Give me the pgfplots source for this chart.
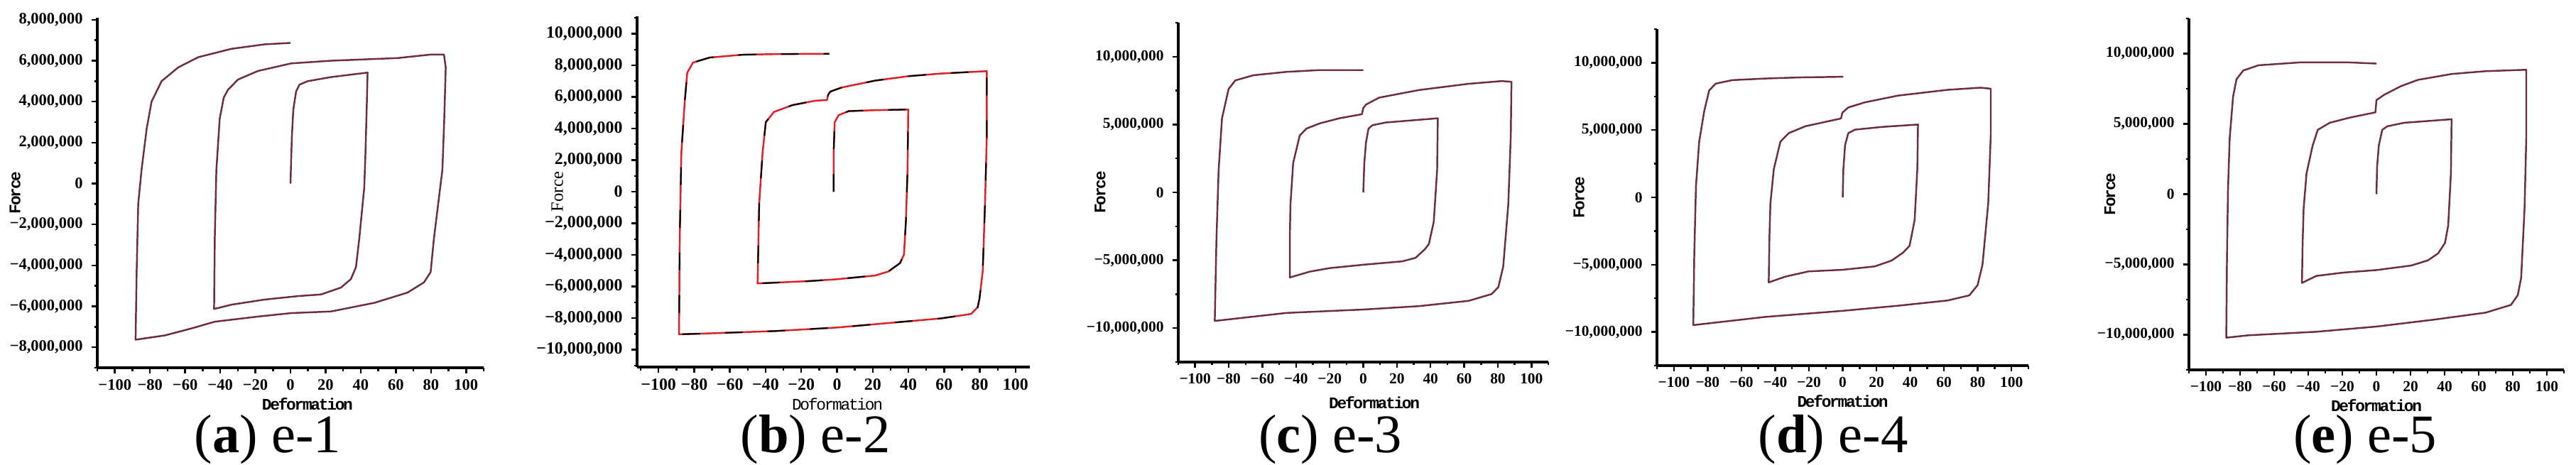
\documentclass[border=0pt]{standalone}
\usepackage{fontspec}
\setmainfont{Liberation Serif}
\newfontfamily\labmono[LetterSpace=-10]{Liberation Mono}
\usepackage{pgfplots}
\pgfplotsset{compat=1.18}
\definecolor{loopc}{RGB}{110,45,60}
\definecolor{loopred}{RGB}{225,30,35}

\pgfplotsset{
  hyst/.style={
    scale only axis, anchor=south west,
    xmin=-110, xmax=110,
    axis lines=left,
    axis line style={-, line width=0.9pt},
    tick align=outside,
    major tick length=0.08cm, minor tick length=0.045cm,
    every tick/.style={black, line width=0.7pt},
    xtick={-100,-80,...,100},
    xticklabels={−100,−80,−60,−40,−20,0,20,40,60,80,100},
    minor xtick={-110,-90,...,110},
    tick label style={font=\fontsize{6.1}{7}\selectfont\bfseries},
    xticklabel style={yshift=0.04cm},
    xlabel style={font=\fontsize{6.5}{7}\selectfont\labmono\bfseries, anchor=center, inner sep=0pt},
    ylabel style={font=\fontsize{6.5}{7}\selectfont\labmono\bfseries, anchor=center},
    clip=false,
  },
  curve/.style={color=loopc, line width=0.7pt, line join=round},
}
\tikzset{subcap/.style={anchor=base, inner sep=0pt, font=\fontsize{21.8}{24}\selectfont}}

\begin{document}
\begin{tikzpicture}
\path[use as bounding box] (0,0) rectangle (36.27,6.55);

% (a) e-1
\begin{axis}[hyst, at={(1.37cm,1.37cm)}, width=5.44cm, height=4.93cm,
  ymin=-9, ymax=8.1,
  ytick={-8,-6,...,8},
  yticklabels={{−8,000,000},{−6,000,000},{−4,000,000},{−2,000,000},0,{2,000,000},{4,000,000},{6,000,000},{8,000,000}},
  minor ytick={-9,-7,...,7},
  tick label style={font=\fontsize{6.4}{7}\selectfont\bfseries},
  xlabel={Deformation}, ylabel={Force},
  xlabel style={at={(axis description cs:0.544,0)}, yshift=-0.51cm},
  ylabel style={at={(axis description cs:-0.213,0.5)}}]
\addplot[curve] coordinates {
(0,0) (0.4,1.2) (0.8,2.3) (1.6,3.6) (3.2,4.5) (5.1,4.83) (9.8,5.0) (23,5.2) (43.9,5.42)
(43.5,4.0) (42.7,1.5) (42,-0.2) (39.2,-2.67) (37.3,-4.08) (34.4,-4.67) (28.8,-5.08) (17.4,-5.42) (4.2,-5.5) (-14.8,-5.67) (-33.7,-5.92) (-43.5,-6.13)
(-43.1,-2.67) (-42.2,0.67) (-40.3,3.17) (-38,4.2) (-35.6,4.58) (-29.9,5.08) (-18.5,5.5) (0.4,5.87) (23.1,6.0) (61,6.13) (79.8,6.3) (87.4,6.3)
(88.4,5.67) (87.5,3) (86.5,0.67) (81.7,-2.67) (79.8,-4.33) (76,-4.83) (66.6,-5.33) (47.7,-5.83) (23.1,-6.25) (0.4,-6.33) (-18.5,-6.5) (-43.1,-6.75) (-56.4,-7.08) (-71.5,-7.42) (-88.2,-7.63)
(-87.6,-4.33) (-86.7,-1.0) (-84.8,0.67) (-81.9,2.67) (-79.1,4.0) (-73.4,5.0) (-64,5.67) (-52.6,6.17) (-33.7,6.58) (-14.8,6.8) (0,6.87)
};
\end{axis}
\node[subcap] at (3.77,0.17) {(\textbf{a}) e-1};

% (b) e-2
\begin{axis}[hyst, at={(8.97cm,1.38cm)}, width=5.53cm, height=4.94cm,
  xmin=-112, xmax=108,
  ymin=-11.1, ymax=11.1,
  ytick={-10,-8,...,10},
  yticklabels={{−10,000,000},{−8,000,000},{−6,000,000},{−4,000,000},{−2,000,000},0,{2,000,000},{4,000,000},{6,000,000},{8,000,000},{10,000,000}},
  minor ytick={-11,-9,...,11},
  tick label style={font=\fontsize{6.8}{8}\selectfont\bfseries},
  xlabel={Doformation}, ylabel={Force},
  xlabel style={font=\fontsize{6.5}{7}\selectfont\labmono, at={(axis description cs:0.51,0)}, yshift=-0.52cm},
  ylabel style={font=\fontsize{7}{8}\selectfont\rmfamily, at={(axis description cs:-0.203,0.5)}}]
\addplot[color=loopred, line width=0.7pt, line join=round] coordinates {
(-1.9,0) (-1.9,2.47) (-1.3,4.4) (0.9,4.84) (6.5,5.1) (21.3,5.16) (39.9,5.2)
(39.5,1.4) (38.6,-1.83) (37.5,-3.98) (35.3,-4.52) (28.8,-5.05) (21.3,-5.31) (-0.9,-5.55) (-15.8,-5.66) (-44.5,-5.81)
(-43.6,-0.75) (-41.7,2.47) (-39.9,4.4) (-35.3,5.05) (-25,5.48) (-12.1,5.76) (-5.6,5.8) (-5,6.13) (-3.7,6.34) (2.8,6.6) (21.3,7.03) (39.9,7.31) (58.4,7.48) (83.9,7.63)
(83.9,3.55) (82.9,-0.75) (81.6,-5.05) (79.8,-6.77) (78.8,-7.31) (75.1,-7.74) (58.4,-8.02) (21.3,-8.39) (0,-8.6) (-34.3,-8.82) (-71.4,-8.97) (-88.5,-9.03)
(-88.1,-2.9) (-87.2,2.47) (-85.3,5.7) (-83.9,7.53) (-80.7,8.17) (-71.4,8.49) (-52.9,8.67) (-34.3,8.71) (-4.3,8.73)
};
\addplot[color=black, line width=0.6pt, line join=round, dash pattern=on 0.25cm off 0.35cm] coordinates {
(-1.9,0) (-1.9,2.47) (-1.3,4.4) (0.9,4.84) (6.5,5.1) (21.3,5.16) (39.9,5.2)
(39.5,1.4) (38.6,-1.83) (37.5,-3.98) (35.3,-4.52) (28.8,-5.05) (21.3,-5.31) (-0.9,-5.55) (-15.8,-5.66) (-44.5,-5.81)
(-43.6,-0.75) (-41.7,2.47) (-39.9,4.4) (-35.3,5.05) (-25,5.48) (-12.1,5.76) (-5.6,5.8) (-5,6.13) (-3.7,6.34) (2.8,6.6) (21.3,7.03) (39.9,7.31) (58.4,7.48) (83.9,7.63)
(83.9,3.55) (82.9,-0.75) (81.6,-5.05) (79.8,-6.77) (78.8,-7.31) (75.1,-7.74) (58.4,-8.02) (21.3,-8.39) (0,-8.6) (-34.3,-8.82) (-71.4,-8.97) (-88.5,-9.03)
(-88.1,-2.9) (-87.2,2.47) (-85.3,5.7) (-83.9,7.53) (-80.7,8.17) (-71.4,8.49) (-52.9,8.67) (-34.3,8.71) (-4.3,8.73)
};
\end{axis}
\node[subcap] at (11.48,0.17) {(\textbf{b}) e-2};

% (c) e-3
\begin{axis}[hyst, at={(16.59cm,1.45cm)}, width=5.21cm, height=4.78cm,
  ymin=-12.5, ymax=12.5,
  ytick={-10,-5,...,10},
  yticklabels={{−10,000,000},{−5,000,000},0,{5,000,000},{10,000,000}},
  minor ytick={-12.5,-7.5,...,12.5},
  xlabel={Deformation}, ylabel={Force},
  xlabel style={at={(axis description cs:0.53,0)}, yshift=-0.57cm},
  ylabel style={at={(axis description cs:-0.211,0.5)}}]
\addplot[curve] coordinates {
(0,0) (0.6,2.16) (1.6,3.68) (3.1,4.7) (5.5,4.95) (13.4,5.15) (44.3,5.46)
(43.9,1.65) (41.9,-2.16) (39,-3.8) (36.6,-4.19) (31.1,-4.82) (23.2,-5.08) (0,-5.33) (-20.1,-5.58) (-31.9,-5.84) (-43.7,-6.27)
(-43.7,-3.43) (-43.3,-0.89) (-41.7,2.16) (-37.8,4.19) (-33.8,4.7) (-26,5.08) (-14.2,5.46) (-0.8,5.76) (0,6.22) (1.6,6.47) (9.4,6.98) (33.1,7.54) (62.6,8.0) (82.2,8.2) (88.1,8.15)
(87.7,4.19) (86.2,-0.89) (83.2,-5.46) (80.3,-6.98) (76.3,-7.49) (62.6,-7.99) (33.1,-8.38) (0,-8.63) (-45.6,-8.88) (-88.3,-9.47)
(-87.3,-3.43) (-86,1.65) (-84,5.46) (-80.1,7.61) (-76.1,8.25) (-65.3,8.63) (-45.6,8.88) (-26,9.01) (0,9.01)
};
\end{axis}
\node[subcap] at (18.73,0.17) {(\textbf{c}) e-3};

% (d) e-4
\begin{axis}[hyst, at={(23.33cm,1.40cm)}, width=5.23cm, height=4.74cm,
  ymin=-12.5, ymax=12.5,
  ytick={-10,-5,...,10},
  yticklabels={{−10,000,000},{−5,000,000},0,{5,000,000},{10,000,000}},
  minor ytick={-12.5,-7.5,...,12.5},
  xlabel={Deformation}, ylabel={Force},
  xlabel style={at={(axis description cs:0.5,0)}, yshift=-0.50cm},
  ylabel style={at={(axis description cs:-0.21,0.5)}}]
\addplot[curve] coordinates {
(0,0) (0.4,2.1) (1.4,3.88) (3.3,4.77) (7.3,5.03) (23,5.23) (44.6,5.41)
(44.2,2.1) (42.6,-1.7) (39.6,-3.6) (35.7,-4.11) (28.9,-4.7) (19,-5.13) (0,-5.38) (-20.2,-5.5) (-34,-5.89) (-43.8,-6.32)
(-43.4,-2.97) (-42.8,-0.43) (-40.8,2.1) (-36.9,4.14) (-32,4.77) (-22.2,5.28) (-6.5,5.71) (-1,5.86) (-0.2,6.29) (3.3,6.68) (13.2,7.06) (32.8,7.56) (62.2,7.99) (81.8,8.15) (87.7,8.07)
(87.7,4.64) (86.2,-0.43) (82.8,-5.0) (79.9,-6.52) (75,-7.28) (62.2,-7.66) (32.8,-8.05) (0,-8.43) (-45.7,-8.88) (-88.5,-9.49)
(-87.9,-4.24) (-86.9,0.84) (-85,4.14) (-82,6.42) (-79.1,7.94) (-75.2,8.45) (-65.4,8.71) (-45.7,8.83) (-26.1,8.91) (0.4,8.96)
};
\end{axis}
\node[subcap] at (25.81,0.17) {(\textbf{d}) e-4};

% (e) e-5
\begin{axis}[hyst, at={(30.82cm,1.34cm)}, width=5.28cm, height=4.95cm,
  ymin=-12.5, ymax=12.5,
  ytick={-10,-5,...,10},
  yticklabels={{−10,000,000},{−5,000,000},0,{5,000,000},{10,000,000}},
  minor ytick={-12.5,-7.5,...,12.5},
  xlabel={Deformation}, ylabel={Force},
  xlabel style={at={(axis description cs:0.5,0)}, yshift=-0.50cm},
  ylabel style={at={(axis description cs:-0.211,0.5)}}]
\addplot[curve] coordinates {
(0,0) (0.4,1.98) (1.4,3.47) (3.4,4.58) (6.4,4.83) (16.3,5.08) (44.1,5.33)
(43.7,1.49) (42.1,-2.23) (40.2,-3.47) (36.2,-4.21) (30.2,-4.71) (20.3,-5.08) (0,-5.4) (-19.5,-5.58) (-35.4,-5.82) (-43.7,-6.32)
(-43.3,-3.47) (-42.7,-0.99) (-41,1.49) (-37.4,3.47) (-34.4,4.58) (-27.4,5.08) (-15.5,5.45) (-0.6,5.82) (0,6.69) (4.4,7.06) (14.3,7.68) (24.3,8.13) (44.1,8.55) (64,8.75) (87.9,8.85)
(87.9,3.97) (86.9,-0.99) (84.9,-5.95) (82.9,-7.19) (78.9,-7.88) (64,-8.43) (34.2,-8.92) (0,-9.42) (-35.4,-9.79) (-75.1,-10.04) (-88.1,-10.21)
(-87.7,-4.71) (-87.1,0.25) (-86.1,3.97) (-84.1,6.94) (-82.1,8.18) (-78.1,8.8) (-69.2,9.17) (-45.3,9.37) (-15.5,9.37) (0,9.29)
};
\end{axis}
\node[subcap] at (33.30,0.17) {(\textbf{e}) e-5};
\end{tikzpicture}
\end{document}
